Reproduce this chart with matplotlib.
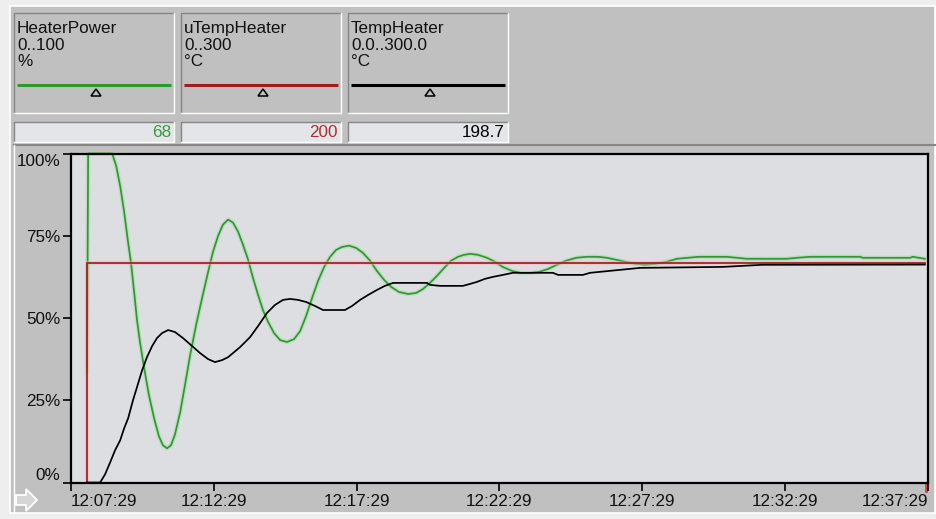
import matplotlib
matplotlib.use("Agg")
import matplotlib.pyplot as plt
from matplotlib.patches import Rectangle, Polygon

plt.rcParams['font.family'] = ['Liberation Sans', 'DejaVu Sans']

# ---------------- data ----------------
tag_names = ["HeaterPower", "uTempHeater", "TempHeater"]
tag_ranges = ["0..100", "0..300", "0.0..300.0"]
tag_units = ["%", "°C", "°C"]
tag_values = ["68", "200", "198.7"]
tag_spans = [(0.0, 100.0), (0.0, 300.0), (0.0, 300.0)]

# minutes after 12:07:29
time_ticks = [0, 5, 10, 15, 20, 25, 30]
time_labels = ["12:07:29", "12:12:29", "12:17:29", "12:22:29",
               "12:27:29", "12:32:29", "12:37:29"]
pct_ticks = [0, 25, 50, 75, 100]
pct_labels = ["0%", "25%", "50%", "75%", "100%"]

# HeaterPower (%)
power_t = [0.56, 0.60, 1.44, 1.58, 1.72, 1.86, 2.00, 2.10, 2.21, 2.31,
           2.42, 2.56, 2.73, 2.91, 3.08, 3.22, 3.36, 3.50, 3.64, 3.82,
           3.99, 4.17, 4.38, 4.59, 4.80, 4.97, 5.15, 5.32, 5.50, 5.67,
           5.85, 6.02, 6.20, 6.37, 6.55, 6.72, 6.90, 7.11, 7.32, 7.56,
           7.81, 8.02, 8.23, 8.44, 8.65, 8.86, 9.07, 9.28, 9.49, 9.73,
           9.98, 10.22, 10.47, 10.71, 10.96, 11.20, 11.48, 11.80, 12.08, 12.32,
           12.57, 12.81, 13.06, 13.30, 13.55, 13.76, 13.97, 14.25, 14.56, 14.84,
           15.12, 15.44, 15.75, 16.07, 16.38, 16.70, 17.01, 17.33, 17.68, 18.06,
           18.45, 18.76, 19.08, 19.39, 19.74, 20.09, 20.48, 20.86, 21.21, 21.60,
           21.95, 22.96, 23.31, 23.66, 25.06, 25.41, 25.87, 27.62, 27.72, 29.37,
           29.47, 29.89]
power_v = [33.5, 100, 100, 96.3, 90.2, 82.3, 72.9, 66.8, 57.9, 49.4,
           42.4, 34.8, 26.5, 19.5, 14.0, 11.3, 10.4, 11.3, 14.6, 21.3,
           29.6, 38.7, 47.9, 56.1, 64.0, 70.1, 75.0, 78.4, 79.9, 79.0,
           76.2, 72.3, 67.7, 62.2, 57.0, 52.4, 48.8, 45.4, 43.3, 42.7,
           43.6, 46.0, 50.6, 56.1, 61.3, 65.5, 68.6, 70.7, 71.6, 72.0,
           71.3, 69.8, 67.4, 64.3, 61.6, 59.5, 57.9, 57.3, 57.6, 58.8,
           60.7, 62.8, 65.2, 67.4, 68.6, 69.2, 69.5, 69.2, 68.3, 67.1,
           65.5, 64.3, 63.7, 63.7, 64.0, 64.9, 66.2, 67.4, 68.3, 68.6,
           68.6, 68.3, 67.7, 67.1, 66.5, 66.2, 66.5, 67.1, 68.0, 68.3,
           68.6, 68.6, 68.3, 68.0, 68.0, 68.3, 68.6, 68.6, 68.3, 68.3,
           68.6, 68.0]

# uTempHeater setpoint (°C)
setpoint_t = [0.56, 0.56, 29.89]
setpoint_v = [0.0, 200.0, 200.0]

# TempHeater actual (°C)
temp_t = [0.56, 1.02, 1.19, 1.37, 1.54, 1.72, 1.86, 2.00, 2.17, 2.31,
          2.49, 2.66, 2.84, 3.01, 3.19, 3.40, 3.64, 3.92, 4.24, 4.52,
          4.80, 5.04, 5.29, 5.50, 5.67, 5.92, 6.27, 6.55, 6.86, 7.14,
          7.42, 7.67, 7.95, 8.23, 8.54, 8.82, 9.59, 9.84, 10.12, 10.40,
          10.71, 10.99, 11.27, 12.46, 12.57, 12.92, 13.72, 13.97, 14.21, 14.49,
          14.77, 15.12, 15.47, 16.87, 17.05, 17.92, 18.17, 18.52, 19.22, 19.92,
          22.82, 24.19, 29.89]
temp_v = [0, 0, 7.3, 18.3, 29.3, 38.4, 49.4, 58.5, 75.0, 86.9,
          102.4, 114.3, 124.4, 131.7, 136.3, 139.0, 137.2, 131.7, 124.4, 118.0,
          112.5, 109.8, 111.6, 114.3, 118.0, 123.5, 132.6, 142.7, 154.6, 161.9,
          166.5, 167.4, 166.5, 164.6, 161.0, 157.3, 157.3, 161.0, 166.5, 171.0,
          175.6, 179.3, 182.0, 182.0, 180.2, 179.3, 179.3, 181.1, 182.9, 185.7,
          187.5, 189.3, 191.2, 191.2, 189.3, 189.3, 191.2, 192.1, 193.9, 195.7,
          196.6, 198.5, 198.7]

tag_colors = ["#2d9a2d", "#a41c1c", "#000000"]
value_colors = ["#3a9a3a", "#a83030", "#000000"]

FS = 12.3

# ---------------- figure ----------------
W, H = 937, 519
fig = plt.figure(figsize=(W / 100, H / 100), dpi=100)
fig.patch.set_facecolor("#eeeeee")

bg = fig.add_axes([0, 0, 1, 1])
bg.set_xlim(0, W)
bg.set_ylim(H, 0)
bg.axis("off")

PANEL = "#c0c0c0"
DARK = "#868686"
LIGHT = "#ffffff"

# main panel
bg.add_patch(Rectangle((10, 6), 925, 507, fc=PANEL, ec="none"))
bg.plot([10, 935, 935], [6, 6, 513], color=LIGHT, lw=1.2)
bg.plot([10, 10, 935], [6, 513, 513], color=LIGHT, lw=1.2)


def sunken(x, y, w, h, fill):
    bg.add_patch(Rectangle((x, y), w, h, fc=fill, ec="none"))
    bg.plot([x, x, x + w], [y + h, y, y], color=DARK, lw=1.0)
    bg.plot([x, x + w, x + w], [y + h, y + h, y], color=LIGHT, lw=1.0)


box_x = [14, 181, 348]
box_w = 160
for i, x0 in enumerate(box_x):
    sunken(x0, 13, box_w, 100, PANEL)
    bg.text(x0 + 3, 33, tag_names[i], fontsize=FS, va="baseline", ha="left",
            color="#111111")
    bg.text(x0 + 3, 50, tag_ranges[i], fontsize=FS, va="baseline", ha="left",
            color="#111111")
    bg.text(x0 + 3, 66, tag_units[i], fontsize=FS, va="baseline", ha="left",
            color="#111111")
    bg.plot([x0 + 3, x0 + box_w - 3], [85, 85], color=tag_colors[i], lw=2.2,
            solid_capstyle="butt")
    cx = x0 + box_w / 2 + 2
    bg.add_patch(Polygon([(cx - 5, 96), (cx + 5, 96), (cx, 89)], closed=True,
                         fc="none", ec="black", lw=1.1))
    sunken(x0, 122, box_w, 20, "#e4e5e9")
    bg.text(x0 + box_w - 3, 132.5, tag_values[i], fontsize=FS, va="center",
            ha="right", color=value_colors[i])

# trend area frame
bg.plot([14, 935], [145, 145], color=DARK, lw=1.5)
bg.plot([14, 14], [145, 512], color=LIGHT, lw=1.0)

# scroll arrow
bg.add_patch(Polygon([(16, 495), (26, 495), (26, 489), (37, 500), (26, 511),
                      (26, 505), (16, 505)], closed=True,
                     fc="#d6d6d6", ec=LIGHT, lw=1.3))

# ---------------- trend axes ----------------
x0p, x1p, y0p, y1p = 71, 928, 153.5, 482.5
ax = fig.add_axes([x0p / W, 1 - y1p / H, (x1p - x0p) / W, (y1p - y0p) / H])
ax.set_facecolor("#dcdee2")
ax.set_xlim(time_ticks[0], time_ticks[-1])
ax.set_ylim(pct_ticks[0], pct_ticks[-1])
for s in ax.spines.values():
    s.set_color("black")
    s.set_linewidth(1.6)


def to_pct(vals, span):
    lo, hi = span
    return [(v - lo) / (hi - lo) * 100.0 for v in vals]


series = [
    (power_t, to_pct(power_v, tag_spans[0]), tag_colors[0], "#9fd89f"),
    (setpoint_t, to_pct(setpoint_v, tag_spans[1]), tag_colors[1], "#f0b4b4"),
    (temp_t, to_pct(temp_v, tag_spans[2]), tag_colors[2], None),
]
for t, v, c, halo in series:
    if halo:
        ax.plot(t, v, color=halo, lw=3.2, alpha=0.45, solid_joinstyle="round",
                clip_on=False)
    ax.plot(t, v, color=c, lw=1.25, solid_joinstyle="round", clip_on=False)

ax.set_xticks(time_ticks)
ax.set_xticklabels(time_labels)
ax.set_yticks(pct_ticks)
ax.set_yticklabels(pct_labels)
ax.tick_params(axis="both", direction="out", length=6, width=1.2,
               labelsize=FS, colors="black", labelcolor="#111111")
ax.tick_params(axis="x", pad=2)
ax.tick_params(axis="y", pad=1.5)

xl = ax.get_xticklabels()
xl[0].set_ha("left")
xl[-1].set_ha("right")
yl = ax.get_yticklabels()
yl[0].set_va("bottom")
yl[-1].set_va("top")

# current-time marker
bg.plot([926, 926], [484, 491], color="#e03a3a", lw=2)

fig.savefig("out.png", dpi=100, facecolor=fig.get_facecolor())
